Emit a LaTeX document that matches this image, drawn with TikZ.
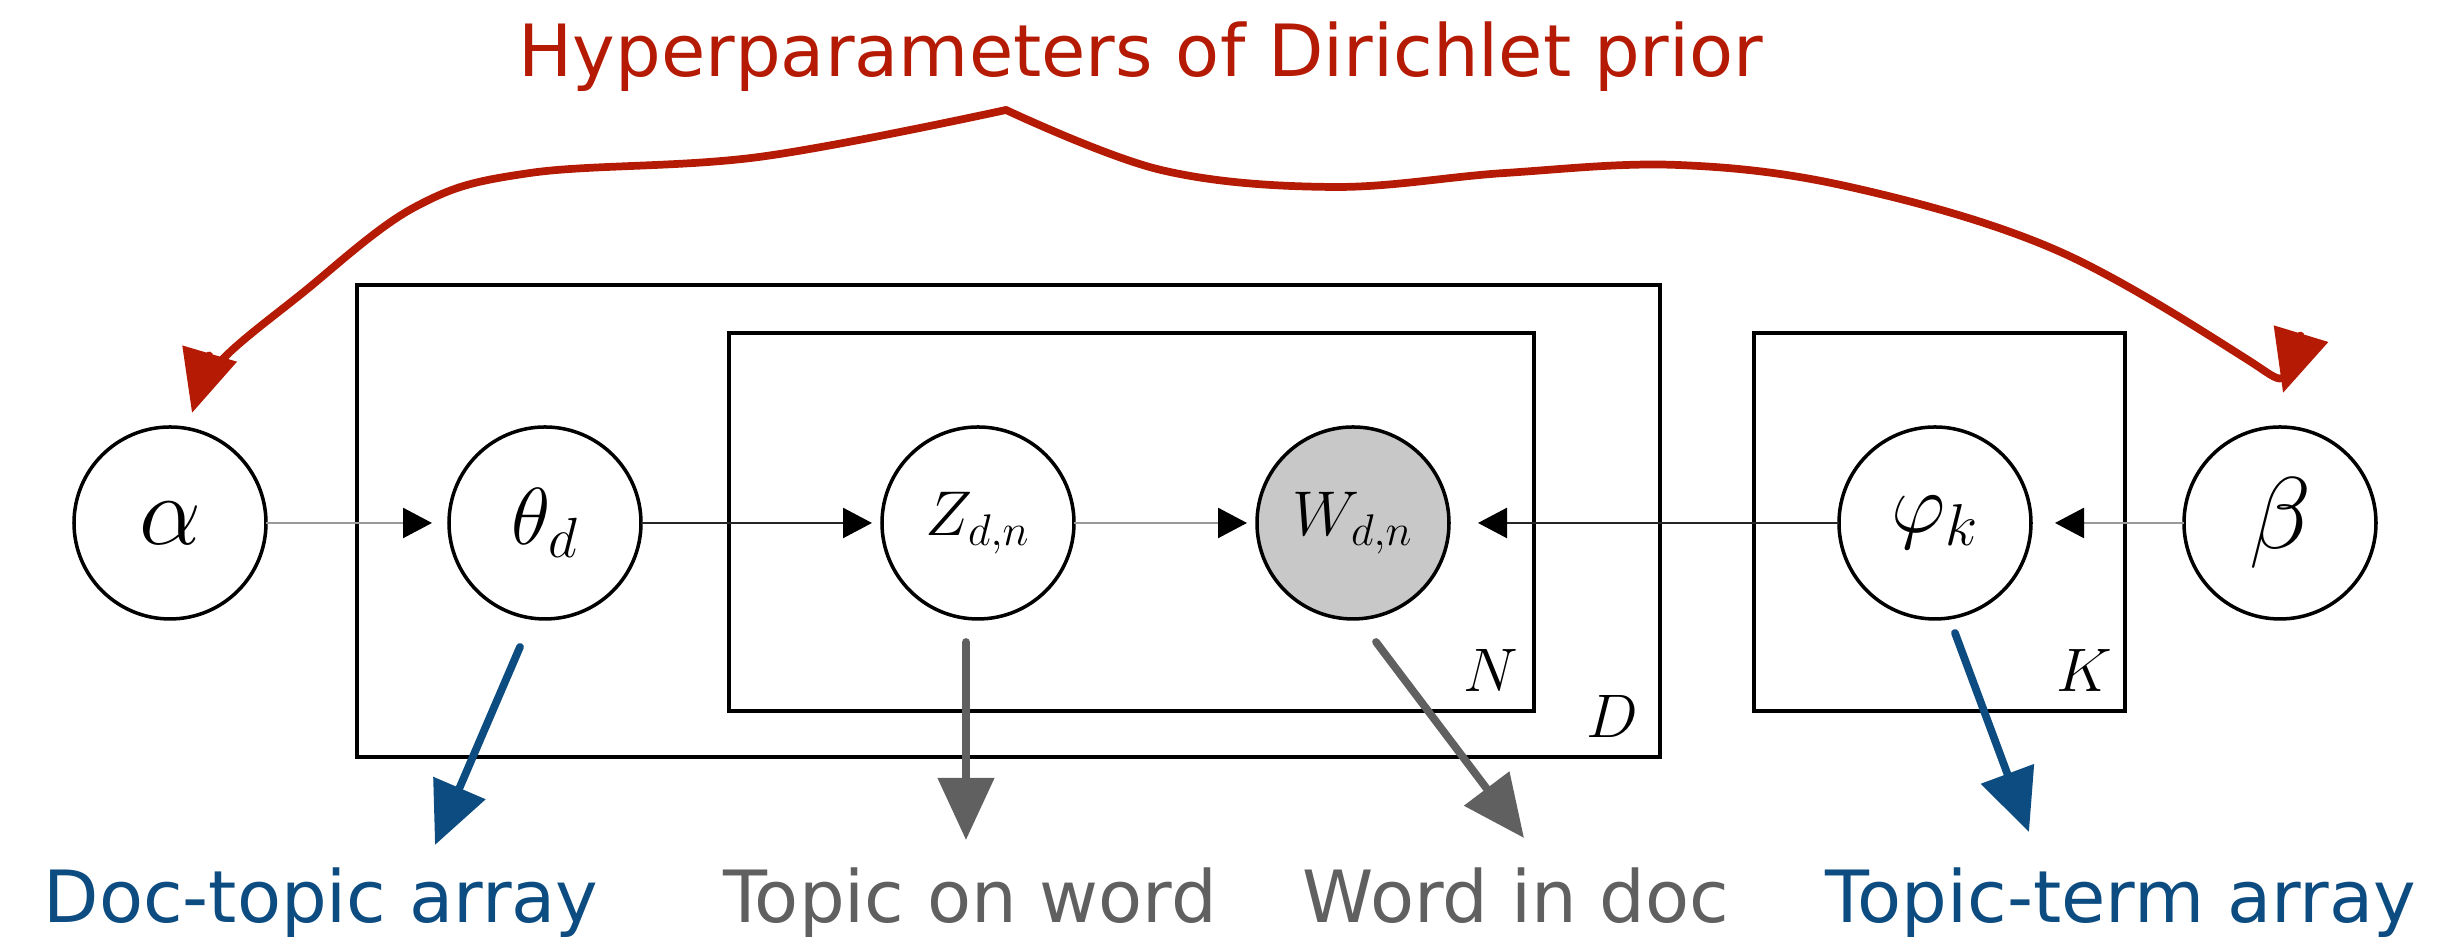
\RequirePackage{fix-cm}
\documentclass[tikz,border=0pt]{standalone}
\usepackage{fontspec}
\newfontfamily\handfont{DejaVu Sans}
\usepackage{tikz}
\usetikzlibrary{arrows.meta,positioning,calc}
\definecolor{hyperred}{RGB}{180,26,4}
\definecolor{arrayblue}{RGB}{12,76,128}
\definecolor{wordgray}{RGB}{96,96,96}
\definecolor{obsfill}{RGB}{200,200,200}

\begin{document}
\begin{tikzpicture}[
  node distance=1.83cm,
  var/.style={circle,draw=black,line width=1pt,minimum size=1.92cm,inner sep=0pt,outer sep=0pt},
  obs/.style={var,fill=obsfill},
  plate/.style={rectangle,draw=black,line width=1.1pt,inner sep=0pt},
  platelbl/.style={anchor=base east,inner sep=0pt,font=\fontsize{17.5}{17.5}\selectfont},
  arr/.style={-{Triangle[length=0.29cm,width=0.30cm,color=black]},line width=0.7pt,draw=black!85},
  arrlight/.style={arr,draw=black!40},
  sketch/.style={-{Triangle[length=0.62cm,width=0.55cm]},line width=2.2pt,line cap=round},
  note/.style={inner sep=0pt,anchor=base,font=\handfont\fontsize{20.5}{20.5}\selectfont},
]
  \useasboundingbox (0,0) rectangle (24.38,9.45);
  \node[plate,minimum width=13.03cm,minimum height=4.72cm] (plateD) at (10.085,4.24) {};
  \node[plate,minimum width=8.05cm,minimum height=3.78cm] (plateN) at (11.315,4.23) {};
  \node[plate,minimum width=3.71cm,minimum height=3.78cm] (plateK) at (19.395,4.23) {};
  \node[platelbl] at ([xshift=-0.17cm,yshift=0.21cm]plateN.south east) {$N$};
  \node[platelbl] at ([xshift=-0.23cm,yshift=0.21cm]plateD.south east) {$D$};
  \node[platelbl] at ([xshift=-0.14cm,yshift=0.21cm]plateK.south east) {$K$};

  \node[var] (alpha) at (1.70,4.22) {\fontsize{28}{28}\selectfont$\alpha$};
  \node[var,right=of alpha] (theta) {\fontsize{23}{23}\selectfont$\theta_d$};
  \node[var,right=2.41cm of theta] (z) {\fontsize{18}{18}\selectfont$Z_{d,n}$};
  \node[obs,right=of z] (w) {\fontsize{18}{18}\selectfont$W_{d,n}$};
  \node[var,right=3.90cm of w] (phi) {\fontsize{24}{24}\selectfont$\varphi_k$};
  \node[var,right=1.53cm of phi] (beta) {\fontsize{29}{29}\selectfont$\beta$};
  \draw[arrlight,shorten >=0.17cm] (alpha) -- (theta);
  \draw[arr,shorten >=0.1cm] (theta) -- (z);
  \draw[arrlight,shorten >=0.1cm] (z) -- (w);
  \draw[arr,shorten >=0.29cm] (phi) -- (w);
  \draw[arrlight,shorten >=0.24cm] (beta) -- (phi);

  \node[note,text=hyperred] (hyper) at (11.41,8.68) {Hyperparameters of Dirichlet prior};
  \node[note,text=arrayblue] (doctopic) at (3.21,0.22) {Doc-topic array};
  \node[note,text=wordgray] (topicword) at (9.70,0.22) {Topic on word};
  \node[note,text=wordgray] (wordindoc) at (15.16,0.22) {Word in doc};
  \node[note,text=arrayblue] (topicterm) at (21.21,0.22) {Topic-term array};

  \coordinate (peak) at ([xshift=-1.35cm,yshift=-0.33cm]hyper.base);
  \draw[sketch,hyperred] plot[smooth,tension=0.6] coordinates {(peak) (7.59,7.88) (5.30,7.72) (4.15,7.38) (3.00,6.50) (2.19,5.82) ([xshift=0.22cm,yshift=0.14cm]alpha.north)};
  \draw[sketch,hyperred] plot[smooth,tension=0.6] coordinates {(peak) (11.61,7.75) (13.33,7.58) (15.05,7.72) (16.78,7.80) (18.50,7.58) (20.56,6.95) (22.48,5.85) ([xshift=0.03cm,yshift=0.34cm]beta.north)};
  \draw[sketch,arrayblue] ([xshift=-0.25cm,yshift=-0.28cm]theta.south) -- ([xshift=1.14cm,yshift=0.78cm]doctopic.base);
  \draw[sketch,wordgray] ([xshift=-0.12cm,yshift=-0.23cm]z.south) -- ([xshift=-0.04cm,yshift=0.83cm]topicword.base);
  \draw[sketch,wordgray] ([xshift=0.23cm,yshift=-0.23cm]w.south) -- ([xshift=0.08cm,yshift=0.85cm]wordindoc.base);
  \draw[sketch,arrayblue] ([xshift=0.20cm,yshift=-0.14cm]phi.south) -- ([xshift=-0.92cm,yshift=0.91cm]topicterm.base);
\end{tikzpicture}
\end{document}
